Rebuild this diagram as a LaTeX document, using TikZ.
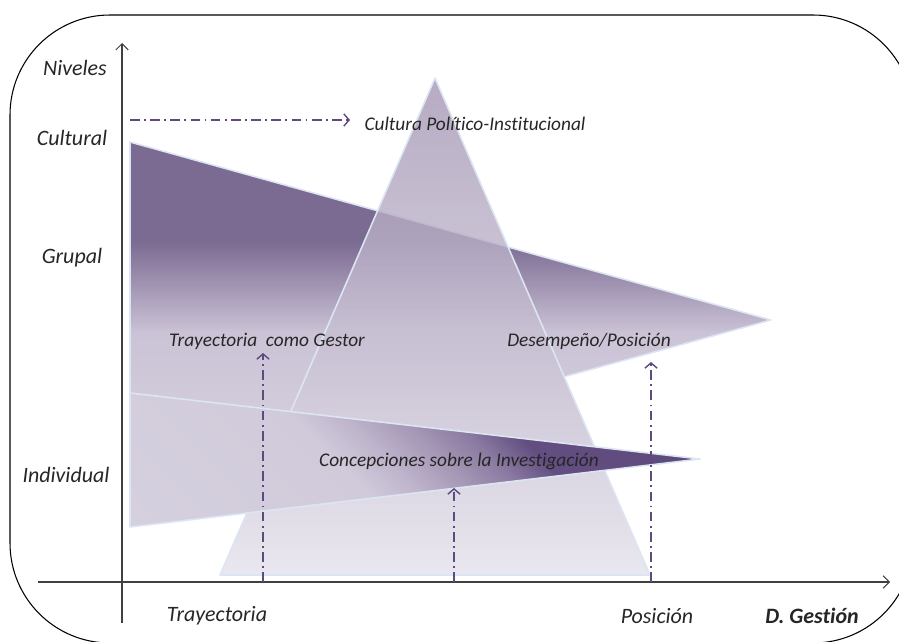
\documentclass[tikz,border=0pt]{standalone}
\usepackage{fontspec}
\setmainfont{Carlito}[Ligatures=NoCommon]
\usetikzlibrary{arrows.meta}
\definecolor{ink}{HTML}{262626}
\definecolor{axisc}{HTML}{404040}
\definecolor{edge}{HTML}{DCE6F2}
\definecolor{arrowc}{HTML}{5F4A7D}
\definecolor{gdark}{HTML}{7B6A92}
\definecolor{gmid}{HTML}{CBC3D6}
\definecolor{glight}{HTML}{D6D1DF}
\definecolor{ttop}{HTML}{A496B4}
\definecolor{tbot}{HTML}{E9E7EF}
\definecolor{ilight}{HTML}{D8D3E1}
\definecolor{ipale}{HTML}{D0CADA}
\definecolor{isoft}{HTML}{BFB5CC}
\definecolor{imid}{HTML}{A496B5}
\definecolor{imidb}{HTML}{8A7AA1}
\definecolor{idarkb}{HTML}{634E81}
\definecolor{idark}{HTML}{5A4476}
\pgfdeclareverticalshading{grupalshade}{100bp}{color(0bp)=(glight); color(30bp)=(glight); color(48bp)=(gmid); color(61bp)=(gdark); color(100bp)=(gdark)}
\pgfdeclarehorizontalshading{indivshade}{100bp}{color(0bp)=(ilight); color(42bp)=(ipale); color(47bp)=(isoft); color(53bp)=(imid); color(58bp)=(imidb); color(63bp)=(idarkb); color(100bp)=(idark)}

\begin{document}
\begin{tikzpicture}[x=0.02cm,y=-0.02cm,
	lbl/.style={font=\itshape\fontsize{12.5}{15}\selectfont,text=ink},
	inlbl/.style={font=\itshape\fontsize{11}{13}\selectfont,text=ink},
	tri/.style={draw=edge,line width=0.9pt,line join=round},
	pyr/.style={top color=ttop,bottom color=tbot},
	dd/.style={draw=arrowc,line width=0.8pt,dash pattern=on 5.5pt off 2.5pt on 1pt off 2.5pt,-{Straight Barb[length=3pt,width=7pt]}},
	axis/.style={draw=axisc,line width=0.6pt,-{Straight Barb[length=3.5pt,width=7pt]}}]
\clip (0,0) rectangle (899,642);
\draw[black,line width=0.6pt,rounded corners=2cm] (10,15) rectangle (913,643);
\shade[shading=grupalshade] (130,142) -- (771,320) -- (130,496) -- cycle;
\draw[tri] (567,376) -- (771,320) -- (130,142) -- (130,400);
\shade[pyr,fill opacity=0.8] (435,78) -- (650,575) -- (220,575) -- cycle;
\begin{scope}
	\clip (0,330) rectangle (899,642);
	\shade[pyr] (435,78) -- (650,575) -- (220,575) -- cycle;
\end{scope}
\draw[tri] (435,78) -- (650,575) -- (220,575) -- cycle;
\shadedraw[tri,shading=indivshade,shading angle=45] (130,393) -- (700,459) -- (130,527) -- cycle;
\coordinate (ybot) at (122,623);
\coordinate (ytop) at (122,43);
\coordinate (xleft) at (38,582);
\coordinate (xright) at (890,582);
\draw[axis] (ybot) -- (ytop);
\draw[axis] (xleft) -- (xright);
\node[lbl] (niveles) at (75,68) {Niveles};
\node[lbl] (cultural) at (72,138) {Cultural};
\node[lbl] (grupal) at (72,258) {Grupal};
\node[lbl] (individual) at (66,475) {Individual};
\node[lbl] (trayectoria) at (217,616) {Trayectoria};
\node[lbl] (posicion) at (657,616) {Posición};
\node[lbl,font=\bfseries\itshape\fontsize{12.5}{15}\selectfont] (dgestion) at (812,616) {D. Gestión};
\node[inlbl] (cultura) at (475,124) {Cultura Político-Institucional};
\node[inlbl] (gestor) at (267,341) {Trayectoria\ \ como Gestor};
\node[inlbl] (desempeno) at (589,341) {Desempeño/Posición};
\node[inlbl] (concepciones) at (459,461) {Concepciones sobre la Investigación};
\coordinate (c0) at (130,120);
\coordinate (c1) at (350,120);
\coordinate (g0) at (263,582);
\coordinate (g1) at (263,353);
\coordinate (i0) at (454,582);
\coordinate (i1) at (454,488);
\coordinate (p0) at (651,582);
\coordinate (p1) at (651,362);
\draw[dd] (c0) -- (c1);
\draw[dd] (g0) -- (g1);
\draw[dd] (i0) -- (i1);
\draw[dd] (p0) -- (p1);
\end{tikzpicture}
\end{document}
